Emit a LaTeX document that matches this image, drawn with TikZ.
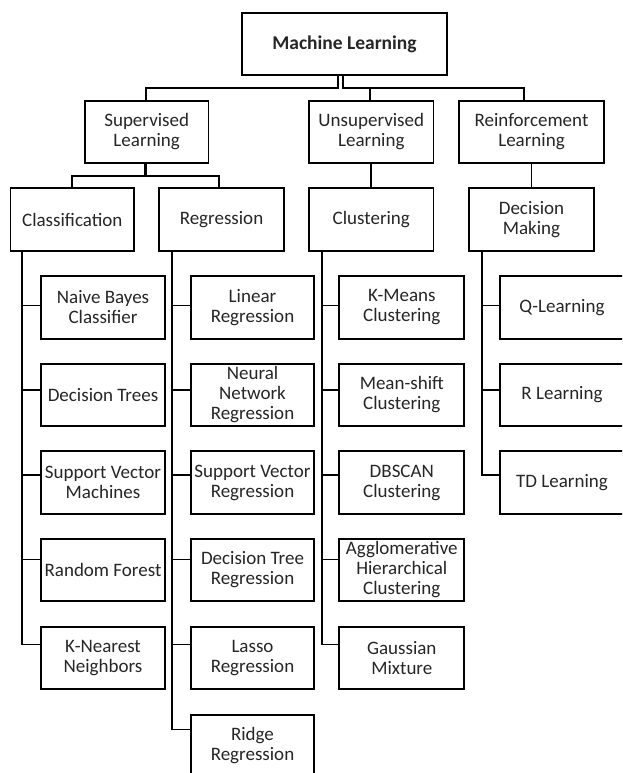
\documentclass[tikz,border=0pt]{standalone}
\usepackage{fontspec}
\setmainfont{Carlito}
\begin{document}
\begin{tikzpicture}[x=1pt,y=-1pt,
  every node/.style={text=black!85},
  box/.style={draw=black, line width=1.7pt, fill=white, inner sep=0pt,
    align=center, minimum height=62.5, minimum width=#1,
    font={\fontsize{19}{20}\selectfont}},
  box/.default=124,
  link/.style={draw=black, line width=1.7pt, line cap=rect}]
\fill[white] (0,0) rectangle (622,773);
\clip (0,0) rectangle (622,773);
\useasboundingbox (0,0) rectangle (622,773);

% root
\node[box=205, font={\fontsize{19.5}{20}\selectfont\bfseries}] (ml) at (344.5,44) {Machine Learning};

% learning paradigms
\node[box=123.5] (sup)   at (146.7,132) {Supervised\\Learning};
\node[box=124.5] (unsup) at (371.3,132) {Unsupervised\\Learning};
\node[box=145.5] (rein)  at (531.5,132) {Reinforcement\\Learning};

% task families
\node[box=123.5] (cls) at (72.3,219.5)  {Classification};
\node[box=124.5] (reg) at (221.5,219.5) {Regression};
\node[box=124.5] (clu) at (371.3,219.5) {Clustering};
\node[box=124.5] (dec) at (531.5,219.5) {Decision\\Making};

% classification methods
\node[box] (nb)  at (103,307.5) {Naive Bayes\\Classifier};
\node[box] (dt)  at (103,395)   {Decision Trees};
\node[box] (svm) at (103,482.5) {Support Vector\\Machines};
\node[box] (rf)  at (103,570)   {Random Forest};
\node[box] (knn) at (103,658)   {K-Nearest\\Neighbors};

% regression methods
\node[box=123] (lin)   at (252.5,307.5) {Linear\\Regression};
\node[box=123] (nnr)   at (252.5,395)   {Neural\\Network\\Regression};
\node[box=123] (svr)   at (252.5,482.5) {Support Vector\\Regression};
\node[box=123] (dtr)   at (252.5,570)   {Decision Tree\\Regression};
\node[box=123] (lasso) at (252.5,658)   {Lasso\\Regression};
\node[box=123] (ridge) at (252.5,746)   {Ridge\\Regression};

% clustering methods
\node[box=125] (km)  at (401.8,307.5) {K-Means\\Clustering};
\node[box=125] (ms)  at (401.8,395)   {Mean-shift\\Clustering};
\node[box=125] (db)  at (401.8,482.5) {DBSCAN\\Clustering};
\node[box=125] (ahc) at (401.8,570)   {Agglomerative\\Hierarchical\\Clustering};
\node[box=125] (gm)  at (401.8,658)   {Gaussian\\Mixture};

% reinforcement methods
\node[box] (ql) at (562,307.5) {Q-Learning};
\node[box] (rl) at (562,395)   {R Learning};
\node[box] (td) at (562,482.5) {TD Learning};

% root to paradigms
\coordinate (jl) at (337.7,87.7);
\coordinate (jr) at (343.3,87.7);
\draw[link] (ml.south -| jl) -- (jl) -| ([xshift=-1pt]sup.north);
\draw[link] (ml.south -| jr) -- (jr) -| ([xshift=-7.2pt]rein.north);
\draw[link] ([xshift=-1.3pt]unsup.north) -- ([xshift=-1.3pt]unsup.north |- jr);

% paradigms to task families
\coordinate (sj) at (145.7,176);
\draw[link, line width=2.6pt, line cap=butt] ([xshift=-1pt]sup.south) -- (sj);
\draw[link] ([xshift=-0.6pt]cls.north) |- (sj) -| ([xshift=-2.5pt]reg.north);
\draw[link] (unsup.south) -- (clu.north);
\draw[link] (rein.south) -- (dec.north);

% trunks under each task family
\coordinate (t1) at (22.3,250.7);
\coordinate (t2) at (172.3,250.7);
\coordinate (t3) at (322.3,250.7);
\coordinate (t4) at (482.3,250.7);

\draw[link] (t1) |- ([yshift=13.5pt]knn.west);
\draw[link] ([yshift=2pt]nb.west -| t1)    -- ([yshift=2pt]nb.west);
\draw[link] ([yshift=4.7pt]dt.west -| t1)  -- ([yshift=4.7pt]dt.west);
\draw[link] ([yshift=7.5pt]svm.west -| t1) -- ([yshift=7.5pt]svm.west);
\draw[link] ([yshift=10.5pt]rf.west -| t1) -- ([yshift=10.5pt]rf.west);

\draw[link] (t2) |- ([yshift=16.5pt]ridge.west);
\draw[link] ([yshift=2pt]lin.west -| t2)      -- ([yshift=2pt]lin.west);
\draw[link] ([yshift=4.7pt]nnr.west -| t2)    -- ([yshift=4.7pt]nnr.west);
\draw[link] ([yshift=7.5pt]svr.west -| t2)    -- ([yshift=7.5pt]svr.west);
\draw[link] ([yshift=10.5pt]dtr.west -| t2)   -- ([yshift=10.5pt]dtr.west);
\draw[link] ([yshift=13.5pt]lasso.west -| t2) -- ([yshift=13.5pt]lasso.west);

\draw[link] (t3) |- ([yshift=13.5pt]gm.west);
\draw[link] ([yshift=2pt]km.west -| t3)     -- ([yshift=2pt]km.west);
\draw[link] ([yshift=4.7pt]ms.west -| t3)   -- ([yshift=4.7pt]ms.west);
\draw[link] ([yshift=7.5pt]db.west -| t3)   -- ([yshift=7.5pt]db.west);
\draw[link] ([yshift=10.5pt]ahc.west -| t3) -- ([yshift=10.5pt]ahc.west);

\draw[link] (t4) |- ([yshift=7.5pt]td.west);
\draw[link] ([yshift=2pt]ql.west -| t4)   -- ([yshift=2pt]ql.west);
\draw[link] ([yshift=4.7pt]rl.west -| t4) -- ([yshift=4.7pt]rl.west);
\end{tikzpicture}
\end{document}
